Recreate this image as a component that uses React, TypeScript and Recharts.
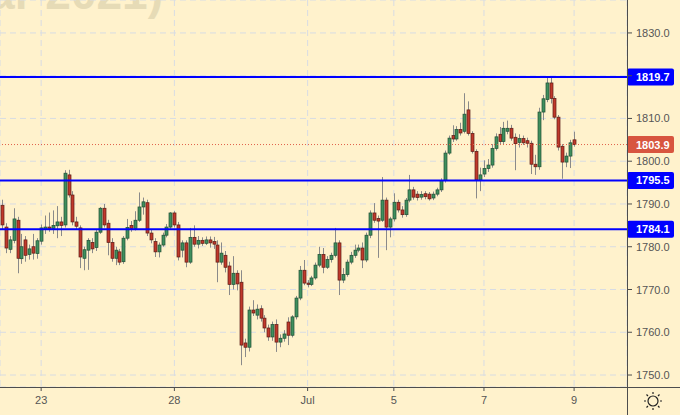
import React from 'react';
import { ComposedChart, Bar, XAxis, YAxis, CartesianGrid, ReferenceLine } from 'recharts';

// ---- data (XAUUSD, 2h candles, 23 Jun - 9 Jul) ----
const openP = [
  1789.7, 1784.6, 1779.4, 1781.5, 1786.2, 1777.2, 1781.6, 1778.2, 1780.0, 1778.4,
  1781.3, 1784.0, 1784.6, 1784.3, 1784.9, 1785.8, 1785.1, 1796.8, 1792.1, 1785.8,
  1784.4, 1777.3, 1779.2, 1781.0, 1779.8, 1783.4, 1789.0, 1785.5, 1781.0, 1777.3,
  1778.8, 1776.5, 1782.0, 1785.0, 1784.3, 1786.2, 1789.3, 1790.3, 1783.2, 1781.2,
  1778.8, 1780.4, 1782.7, 1784.6, 1787.9, 1785.1, 1779.2, 1780.9, 1776.4, 1782.2,
  1780.6, 1781.5, 1780.8, 1781.6, 1781.2, 1780.4, 1776.4, 1778.0, 1775.5, 1771.2,
  1773.8, 1771.7, 1757.5, 1756.5, 1765.2, 1764.0, 1765.5, 1763.3, 1761.0, 1758.9,
  1761.8, 1757.7, 1758.6, 1762.4, 1759.3, 1763.6, 1768.0, 1774.5, 1771.5, 1771.2,
  1772.7, 1775.7, 1778.2, 1775.2, 1777.0, 1778.0, 1780.9, 1772.2, 1773.5, 1776.4,
  1778.0, 1779.2, 1779.7, 1776.9, 1782.7, 1787.9, 1786.6, 1786.2, 1790.9, 1784.6,
  1786.5, 1790.4, 1788.6, 1787.5, 1790.9, 1793.3, 1792.3, 1791.6, 1792.4, 1792.3,
  1791.4, 1792.3, 1793.3, 1795.5, 1801.9, 1806.0, 1805.2, 1807.4, 1807.0, 1812.0,
  1806.5, 1802.3, 1795.6, 1797.0, 1798.3, 1799.1, 1803.0, 1806.3, 1804.6, 1807.0,
  1807.7, 1805.6, 1804.4, 1805.3, 1804.8, 1804.2, 1799.3, 1798.7, 1811.5, 1814.4,
  1818.3, 1814.7, 1810.3, 1803.5, 1799.8, 1801.2, 1805.0,
];
const highP = [
  1791.0, 1785.5, 1782.5, 1789.0, 1787.0, 1783.0, 1782.5, 1780.5, 1783.0, 1782.0,
  1785.2, 1787.3, 1788.0, 1788.5, 1789.5, 1787.0, 1797.9, 1798.0, 1793.0, 1787.0,
  1785.0, 1780.0, 1782.0, 1782.0, 1784.0, 1789.3, 1790.0, 1786.3, 1782.0, 1780.0,
  1779.5, 1782.5, 1786.5, 1786.0, 1788.3, 1792.7, 1791.5, 1791.0, 1784.0, 1782.0,
  1781.0, 1783.3, 1785.3, 1788.1, 1788.3, 1785.8, 1781.5, 1781.5, 1784.4, 1785.0,
  1782.5, 1782.2, 1782.4, 1782.4, 1782.3, 1781.5, 1781.0, 1779.0, 1776.5, 1777.8,
  1774.5, 1774.5, 1758.5, 1766.0, 1767.5, 1766.5, 1766.3, 1764.0, 1761.8, 1762.5,
  1763.0, 1759.5, 1760.5, 1763.5, 1764.0, 1768.5, 1775.5, 1776.9, 1772.2, 1773.2,
  1776.3, 1780.0, 1779.7, 1777.8, 1778.6, 1784.4, 1781.5, 1775.0, 1777.0, 1778.8,
  1780.5, 1780.5, 1781.0, 1783.3, 1788.5, 1790.2, 1787.3, 1796.3, 1791.5, 1787.0,
  1792.5, 1791.0, 1789.5, 1791.4, 1796.8, 1794.0, 1793.0, 1793.0, 1793.0, 1792.8,
  1792.9, 1793.8, 1796.0, 1802.5, 1806.0, 1808.4, 1808.2, 1809.0, 1815.9, 1814.0,
  1807.0, 1802.8, 1798.5, 1800.2, 1800.5, 1804.0, 1806.5, 1808.0, 1809.2, 1809.5,
  1808.5, 1806.5, 1806.3, 1806.0, 1805.5, 1804.8, 1801.5, 1812.5, 1815.5, 1819.7,
  1819.9, 1815.2, 1810.8, 1804.0, 1802.0, 1805.0, 1806.9,
];
const lowP = [
  1784.0, 1778.5, 1778.5, 1780.8, 1773.8, 1776.0, 1776.5, 1777.0, 1777.0, 1777.2,
  1780.5, 1783.0, 1783.5, 1783.0, 1782.0, 1782.5, 1784.5, 1791.5, 1785.0, 1784.0,
  1775.0, 1774.5, 1774.6, 1778.5, 1779.0, 1783.0, 1784.5, 1778.0, 1776.5, 1775.7,
  1775.7, 1776.0, 1781.5, 1783.5, 1783.8, 1785.8, 1787.5, 1782.5, 1780.8, 1777.6,
  1777.5, 1780.0, 1782.2, 1784.2, 1784.5, 1776.8, 1777.5, 1775.2, 1776.0, 1780.0,
  1779.6, 1780.2, 1780.4, 1779.8, 1779.5, 1771.7, 1775.8, 1774.0, 1768.7, 1770.0,
  1769.8, 1752.3, 1754.2, 1755.5, 1763.8, 1763.0, 1762.5, 1760.0, 1758.0, 1758.0,
  1755.4, 1756.5, 1757.8, 1757.0, 1758.8, 1763.0, 1767.5, 1771.0, 1770.5, 1770.8,
  1772.3, 1775.2, 1773.8, 1774.8, 1776.3, 1777.5, 1768.7, 1771.5, 1773.0, 1775.9,
  1777.4, 1778.7, 1775.0, 1776.4, 1782.0, 1785.6, 1777.4, 1785.8, 1779.2, 1782.2,
  1785.9, 1788.0, 1786.8, 1787.0, 1790.4, 1791.0, 1790.8, 1791.0, 1791.1, 1790.8,
  1790.9, 1791.8, 1792.8, 1795.0, 1801.5, 1804.5, 1804.8, 1806.0, 1806.5, 1806.0,
  1801.8, 1791.3, 1793.0, 1796.3, 1797.5, 1798.5, 1802.5, 1804.0, 1804.0, 1806.3,
  1804.8, 1797.9, 1803.2, 1803.8, 1803.2, 1797.0, 1796.8, 1798.0, 1809.6, 1813.8,
  1813.5, 1809.8, 1802.5, 1795.9, 1798.6, 1798.4, 1803.4,
];
const closeP = [
  1785.1, 1779.7, 1781.6, 1786.5, 1777.3, 1780.0, 1778.0, 1779.5, 1778.5, 1781.4,
  1784.4, 1784.6, 1784.3, 1785.0, 1785.8, 1785.0, 1797.2, 1792.1, 1785.8, 1784.8,
  1777.6, 1779.3, 1781.5, 1779.5, 1783.4, 1789.0, 1785.1, 1781.0, 1777.3, 1779.2,
  1776.4, 1782.0, 1784.5, 1784.3, 1786.2, 1789.3, 1790.5, 1783.2, 1781.6, 1778.8,
  1780.4, 1782.7, 1784.6, 1787.9, 1785.1, 1777.6, 1780.9, 1776.4, 1782.2, 1780.6,
  1781.5, 1780.8, 1781.6, 1780.9, 1780.6, 1776.4, 1778.5, 1775.2, 1771.2, 1773.8,
  1771.3, 1757.0, 1756.5, 1765.2, 1764.5, 1765.4, 1763.3, 1761.0, 1758.9, 1761.8,
  1757.7, 1758.6, 1759.6, 1759.3, 1763.6, 1768.0, 1774.5, 1771.5, 1771.2, 1772.7,
  1775.7, 1778.2, 1775.2, 1777.0, 1778.0, 1780.9, 1772.2, 1773.5, 1776.4, 1778.0,
  1779.2, 1779.7, 1776.9, 1782.7, 1787.9, 1786.2, 1786.0, 1790.9, 1784.6, 1786.5,
  1790.4, 1788.6, 1787.5, 1790.9, 1793.3, 1791.6, 1791.5, 1792.2, 1791.7, 1791.2,
  1792.3, 1793.3, 1795.5, 1801.9, 1805.4, 1805.2, 1807.4, 1806.6, 1811.0, 1806.5,
  1802.3, 1795.6, 1796.8, 1798.3, 1799.1, 1803.0, 1805.7, 1804.6, 1807.7, 1807.7,
  1805.4, 1804.1, 1805.3, 1804.3, 1804.2, 1799.3, 1798.7, 1811.5, 1814.6, 1818.3,
  1814.7, 1810.3, 1803.3, 1799.8, 1801.2, 1804.3, 1803.9,
];

const SLOTS = 160;
const xTickIdx = [10, 44, 78, 100, 123, 146];
const xTickLabels = ['23', '28', 'Jul', '5', '7', '9'];
const yTicks = [1750, 1760, 1770, 1780, 1790, 1800, 1810, 1820, 1830];
const yDomain: [number, number] = [1747.2, 1837.7];
const levelValues = [1819.7, 1795.5, 1784.1];
const lastPrice = 1803.9;
const watermark = 'ar 2021)';

const rows = Array.from({ length: SLOTS }, (_, i) =>
  i < openP.length
    ? { i, o: openP[i], h: highP[i], l: lowP[i], c: closeP[i], range: [lowP[i], highP[i]] }
    : { i, range: null }
);

const BG = '#FFF2CC';
const AXIS = '#4d4d4d';
const TEXT = '#555555';
const tagValues = [...levelValues, lastPrice];

const Candle = (props: any) => {
  const { x, y, width, height, payload } = props;
  if (!payload || payload.o == null) return null;
  const { o, h, l, c } = payload;
  const top = Math.min(y, y + height);
  const bottom = Math.max(y, y + height);
  const span = h - l || 1;
  const py = (v: number) => top + ((h - v) / span) * (bottom - top);
  const cx = Math.round(x + width / 2);
  const up = c >= o;
  const bTop = py(Math.max(o, c));
  const bBot = py(Math.min(o, c));
  return (
    <g>
      <line x1={cx + 0.5} x2={cx + 0.5} y1={top} y2={bottom} stroke="#8a8a8a" strokeWidth={1} />
      <rect
        x={cx - 1}
        y={bTop}
        width={3}
        height={Math.max(1, bBot - bTop)}
        fill={up ? '#3f8f5e' : '#c0392b'}
        stroke={up ? '#1f4d33' : '#5a1c14'}
        strokeWidth={0.7}
      />
    </g>
  );
};

// y-axis tick text, hidden where a price tag covers it
const YTick = (props: any) => {
  const { x, y, payload } = props;
  const v = Number(payload?.value);
  if (tagValues.some((t) => Math.abs(t - v) < 2)) return null;
  return (
    <text x={x} y={y} dy={4} fill={TEXT} fontSize={11} textAnchor="start">
      {v.toFixed(1)}
    </text>
  );
};

const tag = (text: string, fill: string) => (p: any) => {
  const vb = p.viewBox || {};
  const yy = vb.y;
  const xx = vb.x + vb.width;
  return (
    <g>
      <rect x={xx} y={yy - 8.5} width={47} height={17} rx={2} fill={fill} />
      <text x={xx + 9} y={yy + 4} fill="#ffffff" fontSize={11} fontWeight="bold">
        {text}
      </text>
    </g>
  );
};

export default function App() {
  return (
    <div
      style={{
        position: 'absolute',
        left: 0,
        top: 0,
        width: 680,
        height: 415,
        background: BG,
        fontFamily: '"Liberation Sans", Arial, sans-serif',
        overflow: 'hidden',
      }}
    >
      <svg width={680} height={415} style={{ position: 'absolute', left: 0, top: 0 }}>
        <text x={163} y={9} textAnchor="end" fontSize={46} fontWeight="bold" fill="#e6dbb6">
          {watermark}
        </text>
      </svg>
      <div style={{ position: 'absolute', left: 0, top: 0 }}>
        <ComposedChart width={680} height={415} data={rows} margin={{ top: 0, right: 0, bottom: 0, left: 0 }}>
          <CartesianGrid stroke="#d8dce3" strokeDasharray="6 4" />
          <XAxis
            dataKey="i"
            type="category"
            ticks={xTickIdx}
            interval={0}
            height={28}
            axisLine={false}
            tickLine={{ stroke: AXIS }}
            tickSize={4}
            tickMargin={5}
            tick={{ fill: TEXT, fontSize: 11 }}
            tickFormatter={(v: any) => xTickLabels[xTickIdx.indexOf(Number(v))] ?? ''}
          />
          <YAxis
            orientation="right"
            width={53}
            type="number"
            domain={yDomain}
            allowDataOverflow
            ticks={yTicks}
            interval={0}
            axisLine={false}
            tickLine={{ stroke: AXIS }}
            tickSize={5}
            tickMargin={4}
            tick={<YTick />}
          />
          <Bar dataKey="range" shape={<Candle />} isAnimationActive={false} />
          <ReferenceLine
            y={lastPrice}
            stroke="#e0614a"
            strokeDasharray="1 2"
            strokeWidth={1}
            label={tag(lastPrice.toFixed(1), '#d8553f')}
          />
          {levelValues.map((v) => (
            <ReferenceLine key={v} y={v} stroke="#0000ff" strokeWidth={2} label={tag(v.toFixed(1), '#0000ff')} />
          ))}
        </ComposedChart>
      </div>
      <svg width={680} height={415} style={{ position: 'absolute', left: 0, top: 0, pointerEvents: 'none' }}>
        <line x1={627.5} x2={627.5} y1={0} y2={415} stroke={AXIS} strokeWidth={1} />
        <line x1={0} x2={680} y1={387.5} y2={387.5} stroke={AXIS} strokeWidth={1} />
        <g stroke="#222" strokeWidth={1.2} fill="none">
          <circle cx={653} cy={401} r={5} />
          <path d="M653 394v-2M653 408v2M646 401h-2M660 401h2M648 396l-1.5-1.5M658 396l1.5-1.5M648 406l-1.5 1.5M658 406l1.5 1.5" />
        </g>
      </svg>
    </div>
  );
}
